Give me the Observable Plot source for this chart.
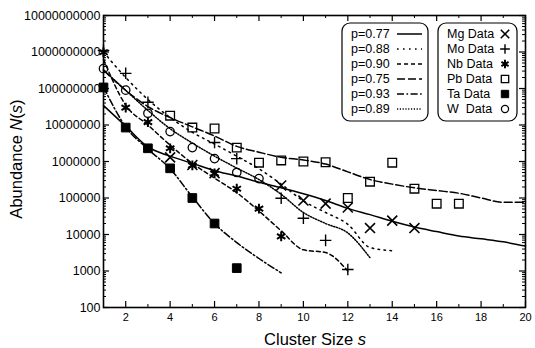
<!DOCTYPE html>
<html>
<head>
<meta charset="utf-8">
<script src="https://cdn.jsdelivr.net/npm/d3@7"></script>
<script src="https://cdn.jsdelivr.net/npm/@observablehq/plot@0.6"></script>
<style>
  html, body { margin: 0; padding: 0; background: #fff; }
  #chart svg { display: block; font-family: "Liberation Sans", Arial, sans-serif; }
</style>
</head>
<body>
<div id="chart"></div>
<script>
// Cluster-size distributions N(s) for six metals, with percolation-model fits.

// Axis ticks
const xTicks = [2, 4, 6, 8, 10, 12, 14, 16, 18, 20];
const xMinorTicks = [1, 3, 5, 7, 9, 11, 13, 15, 17, 19];
const yTicks = [1e2, 1e3, 1e4, 1e5, 1e6, 1e7, 1e8, 1e9, 1e10];

// Measured abundances (cluster size, abundance)
const mgSize = [4, 5, 6, 9, 10, 11, 12, 13, 14, 15];
const mgData = [1.3e6, 8e5, 4.8e5, 2.2e5, 8.5e4, 7e4, 5.5e4, 1.5e4, 2.4e4, 1.5e4];

const moSize = [1, 2, 3, 6, 7, 9, 10, 11, 12];
const moData = [1.1e9, 2.6e8, 4.2e7, 3.3e6, 1.2e6, 9.8e4, 2.8e4, 6.9e3, 1.1e3];

const nbSize = [1, 2, 3, 4, 5, 6, 7, 8, 9];
const nbData = [9.8e8, 3e7, 1.2e7, 2.3e6, 7.8e5, 4.7e5, 1.8e5, 5.1e4, 8.9e3];

const pbSize = [4, 5, 6, 7, 8, 9, 10, 11, 12, 13, 14, 15, 16, 17];
const pbData = [1.8e7, 8.5e6, 8e6, 2.4e6, 9.3e5, 1.07e6, 1e6, 9.5e5, 1e5, 2.8e5, 9.3e5, 1.8e5, 7e4, 7e4];

const taSize = [1, 2, 3, 4, 5, 6, 7];
const taData = [1.07e8, 8.5e6, 2.3e6, 6.5e5, 1e5, 2e4, 1.2e3];

const wSize = [1, 2, 3, 4, 5, 6, 7, 8];
const wData = [3.5e8, 9e7, 2.1e7, 6.6e6, 2.4e6, 1.2e6, 5e5, 3.4e5];

// Model curves, one value per cluster size starting at s = 1
const mgFit = [3.4e7, 9.3e6, 2.5e6, 1.4e6, 8.9e5, 5.6e5, 4e5, 2.7e5, 1.9e5, 1.3e5, 8.5e4, 5.2e4, 3.5e4, 2.3e4, 1.6e4, 1.2e4, 9.1e3, 7.6e3, 6.3e3, 4.8e3];
const moFit = [1e9, 2e8, 5e7, 1.6e7, 6.3e6, 3e6, 1.4e6, 6.3e5, 2.4e5, 8.3e4, 4e4, 1.9e4, 4.4e3, 3.6e3];
const nbFit = [6.3e8, 3.5e7, 1e7, 2.8e6, 8.9e5, 3.5e5, 1.4e5, 4.4e4, 1.26e4, 3.8e3, 3.2e3, 1e3];
const pbFit = [3.2e8, 8.9e7, 3.2e7, 1.6e7, 8.9e6, 5e6, 2.6e6, 1.8e6, 1.3e6, 1.1e6, 8.5e5, 5.2e5, 3.2e5, 2.4e5, 1.9e5, 1.6e5, 1.35e5, 1e5, 7.6e4, 7.6e4];
const taFit = [1.1e8, 8.9e6, 2.2e6, 6.3e5, 1.07e5, 2e4, 6e3, 2.2e3, 8.9e2];
const wFit = [3.2e8, 8.9e7, 2.5e7, 7.9e6, 3.2e6, 1.4e6, 6.6e5, 3.2e5, 1.26e5, 4e4, 2e4, 1.1e4, 2.3e3];

// Legend labels
const fitLabels = ["p=0.77", "p=0.88", "p=0.90", "p=0.75", "p=0.93", "p=0.89"];
const dataLabels = ["Mg Data", "Mo Data", "Nb Data", "Pb Data", "Ta Data", "W  Data"];

// Line styles for the fits (same order as fitLabels)
const fits = [
  {values: mgFit, dash: null},
  {values: moFit, dash: "1.6,4.4"},
  {values: nbFit, dash: "4,3"},
  {values: pbFit, dash: "8,3"},
  {values: taFit, dash: "7,2.5,1.6,2.5"},
  {values: wFit, dash: "1.2,1.6"}
];

// Marker styles for the measurements (same order as dataLabels)
const sets = [
  {size: mgSize, values: mgData, symbol: "times", r: 4.6, fill: "none", stroke: "black", sw: 1.6},
  {size: moSize, values: moData, symbol: "plus", r: 3.8, fill: "none", stroke: "black", sw: 1.4},
  {size: nbSize, values: nbData, symbol: "asterisk", r: 4.6, fill: "none", stroke: "black", sw: 2},
  {size: pbSize, values: pbData, symbol: "square", r: 4.9, fill: "none", stroke: "black", sw: 1.3},
  {size: taSize, values: taData, symbol: "square", r: 4.9, fill: "black", stroke: "black", sw: 1},
  {size: wSize, values: wData, symbol: "circle", r: 4.2, fill: "none", stroke: "black", sw: 1.3}
];

const width = 535, height = 348;
const mL = 103, mR = 10, mT = 15, mB = 41;
const innerW = width - mL - mR, innerH = height - mT - mB;

// minor log ticks 2..9 within each decade
const yMinor = [];
for (let e = 2; e < 10; e++) for (let m = 2; m <= 9; m++) yMinor.push(m * Math.pow(10, e));

const lineMarks = fits.map(f =>
  Plot.line(f.values.map((n, i) => ({s: i + 1, n})), {
    x: "s", y: "n", stroke: "black", strokeWidth: 1.5,
    strokeDasharray: f.dash, curve: "monotone-x"
  })
);

const dotMarks = sets.map(d =>
  Plot.dot(d.size.map((s, i) => ({s, n: d.values[i]})), {
    x: "s", y: "n", symbol: () => d.symbol, r: d.r,
    fill: d.fill, stroke: d.stroke, strokeWidth: d.sw
  })
);

const chart = Plot.plot({
  width, height,
  marginLeft: mL, marginRight: mR, marginTop: mT, marginBottom: mB,
  style: {fontFamily: '"Liberation Sans", Arial, sans-serif', color: "black", background: "white"},
  x: {domain: [1, 20]},
  y: {type: "log", domain: [100, 1e10]},
  symbol: {type: "identity"},
  marks: [
    ...lineMarks,
    ...dotMarks,
    // inward tick marks on all four sides
    Plot.tickY(yTicks, {y: d => d, insetRight: innerW - 6, strokeWidth: 1.2}),
    Plot.tickY(yTicks, {y: d => d, insetLeft: innerW - 6, strokeWidth: 1.2}),
    Plot.tickY(yMinor, {y: d => d, insetRight: innerW - 3, strokeWidth: 1}),
    Plot.tickY(yMinor, {y: d => d, insetLeft: innerW - 3, strokeWidth: 1}),
    Plot.tickX(xTicks, {x: d => d, insetTop: innerH - 6, strokeWidth: 1.2}),
    Plot.tickX(xTicks, {x: d => d, insetBottom: innerH - 6, strokeWidth: 1.2}),
    Plot.tickX(xMinorTicks, {x: d => d, insetTop: innerH - 3, strokeWidth: 1}),
    Plot.tickX(xMinorTicks, {x: d => d, insetBottom: innerH - 3, strokeWidth: 1}),
    Plot.axisX({ticks: xTicks, tickSize: 0, tickPadding: 6, fontSize: 11, label: null}),
    Plot.axisY({ticks: yTicks, tickSize: 0, tickPadding: 3, fontSize: 12.5, label: null,
      tickFormat: d => d3.format("d")(d)}),
    Plot.frame({stroke: "black", strokeWidth: 1.6})
  ]
});

document.getElementById("chart").appendChild(chart);

// Axis titles with italic variables, plus the two legend boxes
const svg = d3.select(chart);
const font = '"Liberation Sans", Arial, sans-serif';

const xt = svg.append("text")
  .attr("x", 315).attr("y", 345)
  .attr("text-anchor", "middle")
  .attr("font-family", font).attr("font-size", 16.5).attr("fill", "black");
xt.append("tspan").text("Cluster Size ");
xt.append("tspan").attr("font-style", "italic").text("s");

const yt = svg.append("text")
  .attr("transform", "translate(22,159) rotate(-90)")
  .attr("text-anchor", "middle")
  .attr("font-family", font).attr("font-size", 16.5).attr("fill", "black");
yt.append("tspan").text("Abundance ");
yt.append("tspan").attr("font-style", "italic").text("N");
yt.append("tspan").text("(");
yt.append("tspan").attr("font-style", "italic").text("s");
yt.append("tspan").text(")");

const rowY = i => 33 + i * 15;

// fit legend
const g1 = svg.append("g").attr("text-anchor", "start");
g1.append("rect").attr("x", 342).attr("y", 23).attr("width", 86).attr("height", 98)
  .attr("rx", 8).attr("fill", "white").attr("stroke", "black").attr("stroke-width", 1.2);
fitLabels.forEach((lab, i) => {
  g1.append("text").attr("x", 351).attr("y", rowY(i) + 4.5)
    .attr("text-anchor", "start")
    .attr("font-family", font).attr("font-size", 12.5).attr("fill", "black").text(lab);
  g1.append("line").attr("x1", 397).attr("x2", 422).attr("y1", rowY(i) + 1).attr("y2", rowY(i) + 1)
    .attr("stroke", "black").attr("stroke-width", 1.5)
    .attr("stroke-dasharray", fits[i].dash);
});

// data legend
const symbolTypes = {times: d3.symbolTimes, plus: d3.symbolPlus, asterisk: d3.symbolAsterisk,
  square: d3.symbolSquare, circle: d3.symbolCircle};
const g2 = svg.append("g").attr("text-anchor", "start");
g2.append("rect").attr("x", 438).attr("y", 23).attr("width", 79).attr("height", 98)
  .attr("rx", 8).attr("fill", "white").attr("stroke", "black").attr("stroke-width", 1.2);
dataLabels.forEach((lab, i) => {
  g2.append("text").attr("x", 447).attr("y", rowY(i) + 4.5)
    .attr("text-anchor", "start")
    .attr("font-family", font).attr("font-size", 12.5).attr("fill", "black")
    .attr("xml:space", "preserve").style("white-space", "pre").text(lab);
  const s = sets[i];
  const r = s.r * 0.85;
  g2.append("path")
    .attr("transform", `translate(505,${rowY(i) + 1})`)
    .attr("d", d3.symbol(symbolTypes[s.symbol], Math.PI * r * r)())
    .attr("fill", s.fill).attr("stroke", s.stroke).attr("stroke-width", s.sw);
});
</script>
</body>
</html>
